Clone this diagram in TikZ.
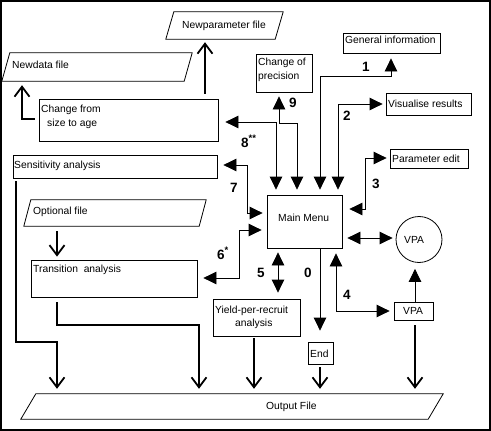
\documentclass[tikz,border=0pt]{standalone}
\usepackage{fontspec}
\setmainfont{Liberation Sans}
\usetikzlibrary{arrows.meta}
\begin{document}
\begin{tikzpicture}[x=1pt,y=-1pt,
 box/.style={draw,rectangle,line width=0.8pt,inner sep=0pt},
 para/.style={rectangle,inner sep=0pt},
 paraline/.style={line width=0.8pt},
 txt/.style={inner sep=0pt,anchor=base west,font=\fontsize{10.3}{12}\selectfont},
 num/.style={inner sep=0pt,anchor=base west,font=\bfseries\fontsize{13.5}{15}\selectfont},
 link/.style={line width=0.8pt,{Triangle[length=13pt,width=12.5pt]}-{Triangle[length=13pt,width=12.5pt]},shorten <=5pt,shorten >=5pt},
 onelink/.style={line width=0.8pt,-{Triangle[length=13pt,width=12.5pt]}},
 fileflow/.style={line width=1.8pt,-{Straight Barb[length=10pt,width=15pt]}}]

\useasboundingbox (0,0) rectangle (491,431);
\draw[line width=1.4pt] (1,1) rectangle (490,430);

% shapes
\node[para,minimum width=117pt,minimum height=27pt] (newpar) at (224.5,25.5) {};
\draw[paraline] ([xshift=8pt]newpar.north west) -- (newpar.north east) -- ([xshift=-8pt]newpar.south east) -- (newpar.south west) -- cycle;
\node[para,minimum width=190pt,minimum height=28pt] (newdata) at (97,67) {};
\draw[paraline] ([xshift=8pt]newdata.north west) -- (newdata.north east) -- ([xshift=-8pt]newdata.south east) -- (newdata.south west) -- cycle;
\node[box,minimum width=179pt,minimum height=42pt] (chg) at (128.5,120) {};
\node[box,minimum width=204pt,minimum height=23pt] (sens) at (115,166.5) {};
\node[para,minimum width=182pt,minimum height=26pt] (opt) at (115,213) {};
\draw[paraline] ([xshift=7pt]opt.north west) -- (opt.north east) -- ([xshift=-7pt]opt.south east) -- (opt.south west) -- cycle;
\node[box,minimum width=166pt,minimum height=37pt] (trans) at (114,278.5) {};
\node[box,minimum width=87pt,minimum height=37pt] (yield) at (256.5,317.5) {};
\node[box,minimum width=25pt,minimum height=22pt] (end) at (320.5,353) {};
\node[para,minimum width=422pt,minimum height=25pt] (output) at (232,406.5) {};
\draw[paraline] ([xshift=15pt]output.north west) -- (output.north east) -- ([xshift=-15pt]output.south east) -- (output.south west) -- cycle;
\node[box,minimum width=75pt,minimum height=53pt] (menu) at (304.5,221.5) {};
\node[draw,circle,line width=0.8pt,inner sep=0pt,minimum size=46pt] (vpac) at (419,239.5) {};
\node[box,minimum width=39pt,minimum height=18pt] (vpab) at (413.5,311) {};
\node[box,minimum width=56pt,minimum height=38pt] (prec) at (284,73) {};
\node[box,minimum width=97pt,minimum height=20pt] (gen) at (391.5,43) {};
\node[box,minimum width=85pt,minimum height=22pt] (vis) at (428.5,104) {};
\node[box,minimum width=78pt,minimum height=19pt] (par) at (429,158.5) {};

% texts
\node[txt] (tnewpar) at (182,28) {Newparameter file};
\node[txt] (tnewdata) at (12,68) {Newdata file};
\node[txt] (tchg1) at (41,112) {Change from};
\node[txt] (tchg2) at (47,126) {size to age};
\node[txt] (tsens) at (14,168) {Sensitivity analysis};
\node[txt] (topt) at (33,214) {Optional file};
\node[txt] (ttrans) at (33,272) {Transition\ \ analysis};
\node[txt] (tyield1) at (215,313) {Yield-per-recruit};
\node[txt] (tyield2) at (235,326) {analysis};
\node[txt] (tend) at (310,357) {End};
\node[txt] (toutput) at (266,409) {Output File};
\node[txt] (tmenu) at (278,221) {Main Menu};
\node[txt] (tvpac) at (404,243) {VPA};
\node[txt] (tvpab) at (403,314) {VPA};
\node[txt] (tprec1) at (258,66) {Change of};
\node[txt] (tprec2) at (258,79) {precision};
\node[txt] (tgen) at (345,44) {General information};
\node[txt] (tvis) at (388,107) {Visualise results};
\node[txt] (tpar) at (392,162) {Parameter edit};

% numbers
\node[num] (n1) at (362,71) {1};
\node[num] (n2) at (343,120) {2};
\node[num] (n3) at (372,188) {3};
\node[num] (n9) at (289,107) {9};
\node[num] (n8) at (241,147) {8\textsuperscript{**}};
\node[num] (n7) at (230,192) {7};
\node[num] (n6) at (217,259) {6\textsuperscript{*}};
\node[num] (n5) at (257,277) {5};
\node[num] (n0) at (304,277) {0};
\node[num] (n4) at (343,299) {4};

% menu connectors
\draw[link,shorten >=7pt] (menu.north -| 276,0) |- (chg.east |- 0,122);
\draw[link,shorten >=4pt] (menu.north -| 297,0) -- (297,123) -| (prec.south -| 279,0);
\draw[link] (menu.north -| 320,0) -- (320,76) -| (gen.south -| 391,0);
\draw[link,shorten >=3pt] (menu.north -| 338,0) |- (vis.west |- 0,104);
\draw[link,shorten <=7pt,shorten >=3pt] (menu.east |- 0,209) -| (365,158) -- (par.west |- 0,158);
\draw[link,shorten <=6pt,shorten >=4pt] (sens.east |- 0,165) -| (247,213) -- (menu.west |- 0,213);
\draw[link,shorten <=6pt,shorten >=5pt] (trans.east |- 0,278) -| (239,230) -- (menu.west |- 0,230);
\draw[link,shorten <=4pt,shorten >=6pt] (menu.south -| 278,0) -- (yield.north -| 278,0);
\draw[onelink,shorten >=11pt] (menu.south -| 320,0) -- (end.north -| 320,0);
\draw[link,shorten >=4pt] (menu.south -| 336,0) |- (vpab.west |- 0,311);
\draw[link,shorten >=3pt] (menu.east |- 0,238) -- (vpac.west |- 0,238);
\draw[onelink,shorten >=6pt] (vpab.north -| 415,0) -- (vpac.south -| 415,0);

% file flows
\draw[fileflow,shorten <=4pt,shorten >=4pt] (chg.west |- 0,119) -| (newdata.south -| 22,0);
\draw[fileflow,shorten <=5pt,shorten >=3pt] (chg.north -| 205,0) -- (newpar.south -| 205,0);
\draw[fileflow,shorten <=3pt,shorten >=5pt] (sens.south -| 16,0) |- (57,342) -- (output.north -| 57,0);
\draw[fileflow,shorten <=5pt,shorten >=3pt] (opt.south -| 57,0) -- (trans.north -| 57,0);
\draw[fileflow,shorten <=5pt,shorten >=5pt] (trans.south -| 57,0) |- (199,325) -- (output.north -| 199,0);
\draw[fileflow,shorten <=2pt,shorten >=5pt] (yield.south -| 254,0) -- (output.north -| 254,0);
\draw[fileflow,shorten <=3pt,shorten >=5pt] (end.south -| 320,0) -- (output.north -| 320,0);
\draw[fileflow,shorten <=5pt,shorten >=5pt] (vpab.south -| 415,0) -- (output.north -| 415,0);
\end{tikzpicture}
\end{document}
